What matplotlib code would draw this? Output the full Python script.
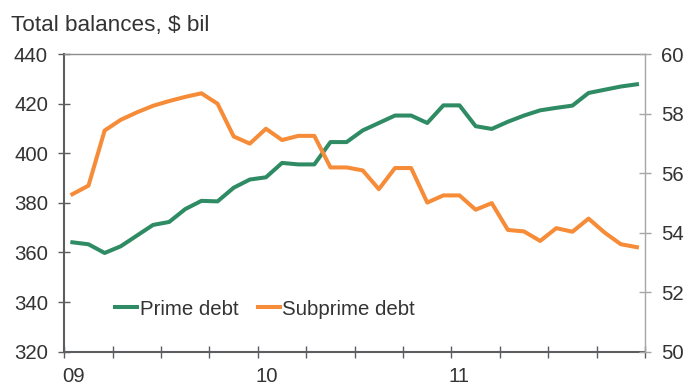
import numpy as np
import matplotlib
matplotlib.use('Agg')
import matplotlib.pyplot as plt
from matplotlib.ticker import FixedLocator, FixedFormatter
from matplotlib.transforms import ScaledTranslation

plt.rcParams['font.family'] = ['Liberation Sans', 'DejaVu Sans']

GREEN = '#2E8B63'
ORANGE = '#F68B38'
TEXT = '#333333'
DARK_AXIS = '#5C5E61'
LIGHT_AXIS = '#A6A6A6'

# monthly balances, Jan 2009 - Dec 2011
prime_debt = [364.1, 363.3, 359.8, 362.5, 366.8, 371.1, 372.3, 377.5, 380.8, 380.6, 386.1, 389.4,
              390.3, 396.1, 395.5, 395.5, 404.5, 404.5, 409.2, 412.2, 415.2, 415.2, 412.2, 419.3,
              419.3, 410.9, 409.8, 412.7, 415.2, 417.3, 418.3, 419.2, 424.3, 425.6, 426.9, 427.8]
subprime_debt = [55.29, 55.58, 57.43, 57.79, 58.04, 58.26, 58.42, 58.56, 58.68, 58.33, 57.23, 56.99,
                 57.49, 57.11, 57.25, 57.25, 56.19, 56.19, 56.09, 55.46, 56.17, 56.17, 55.01, 55.25,
                 55.25, 54.77, 54.99, 54.09, 54.04, 53.72, 54.15, 54.03, 54.47, 54.00, 53.61, 53.51]
year_labels = ['09', '10', '11']
left_ticks = [320, 340, 360, 380, 400, 420, 440]
right_ticks = [50, 52, 54, 56, 58, 60]

n_months = len(prime_debt)
months = np.arange(n_months) + 0.5   # plot each month at its midpoint

fig = plt.figure(figsize=(6.9, 3.85), dpi=100)
ax = fig.add_axes([0.0932, 0.0865, 0.8416, 0.7732])
ax2 = ax.twinx()

l1, = ax.plot(months, prime_debt, color=GREEN, lw=2.9, solid_joinstyle='round',
              label='Prime debt')
l2, = ax2.plot(months, subprime_debt, color=ORANGE, lw=2.9, solid_joinstyle='round',
               label='Subprime debt')

ax.set_xlim(0, n_months)
ax.set_ylim(left_ticks[0], left_ticks[-1])
ax2.set_ylim(right_ticks[0], right_ticks[-1])

# quarterly ticks, year labels at each January
quarter_ticks = list(range(0, n_months + 1, 3))
quarter_labels = ['' for _ in quarter_ticks]
for i, lab in enumerate(year_labels):
    quarter_labels[quarter_ticks.index(12 * i)] = lab
ax.xaxis.set_major_locator(FixedLocator(quarter_ticks))
ax.xaxis.set_major_formatter(FixedFormatter(quarter_labels))
ax.set_yticks(left_ticks)
ax2.set_yticks(right_ticks)

ax.tick_params(axis='x', direction='inout', length=8.6, width=1.0, color=DARK_AXIS,
               labelsize=14.7, labelcolor=TEXT, pad=7)
ax.tick_params(axis='y', direction='inout', length=8.6, width=1.0, color=DARK_AXIS,
               labelsize=14.7, labelcolor=TEXT, pad=7.5)
ax2.tick_params(axis='y', direction='inout', length=8.6, width=1.0, color=LIGHT_AXIS,
                labelsize=14.7, labelcolor=TEXT, pad=7.5)

shift = ScaledTranslation(-0.025, 0, fig.dpi_scale_trans)
for lab in ax.get_xticklabels():
    lab.set_horizontalalignment('left')
    lab.set_transform(lab.get_transform() + shift)

for side in ['left', 'bottom']:
    ax.spines[side].set_color(DARK_AXIS)
    ax.spines[side].set_linewidth(1.5)
ax.spines['top'].set_color('#8C8C8C')
ax.spines['top'].set_linewidth(1.0)
ax.spines['right'].set_visible(False)
for side in ['left', 'bottom', 'top']:
    ax2.spines[side].set_visible(False)
ax2.spines['right'].set_color(LIGHT_AXIS)
ax2.spines['right'].set_linewidth(1.0)

ax2.legend([l1, l2], ['Prime debt', 'Subprime debt'], ncol=2, frameon=False,
           loc='center left', bbox_to_anchor=(0.088, 0.143), fontsize=14.7,
           handlelength=1.08, handletextpad=0.1, columnspacing=0.95,
           borderpad=0, borderaxespad=0, labelcolor=TEXT)

fig.text(0.0165, 1 - 30.7 / 385, 'Total balances, $ bil', fontsize=16.2, color=TEXT,
         ha='left', va='baseline')

plt.savefig('out.png', dpi=100, facecolor='white')
